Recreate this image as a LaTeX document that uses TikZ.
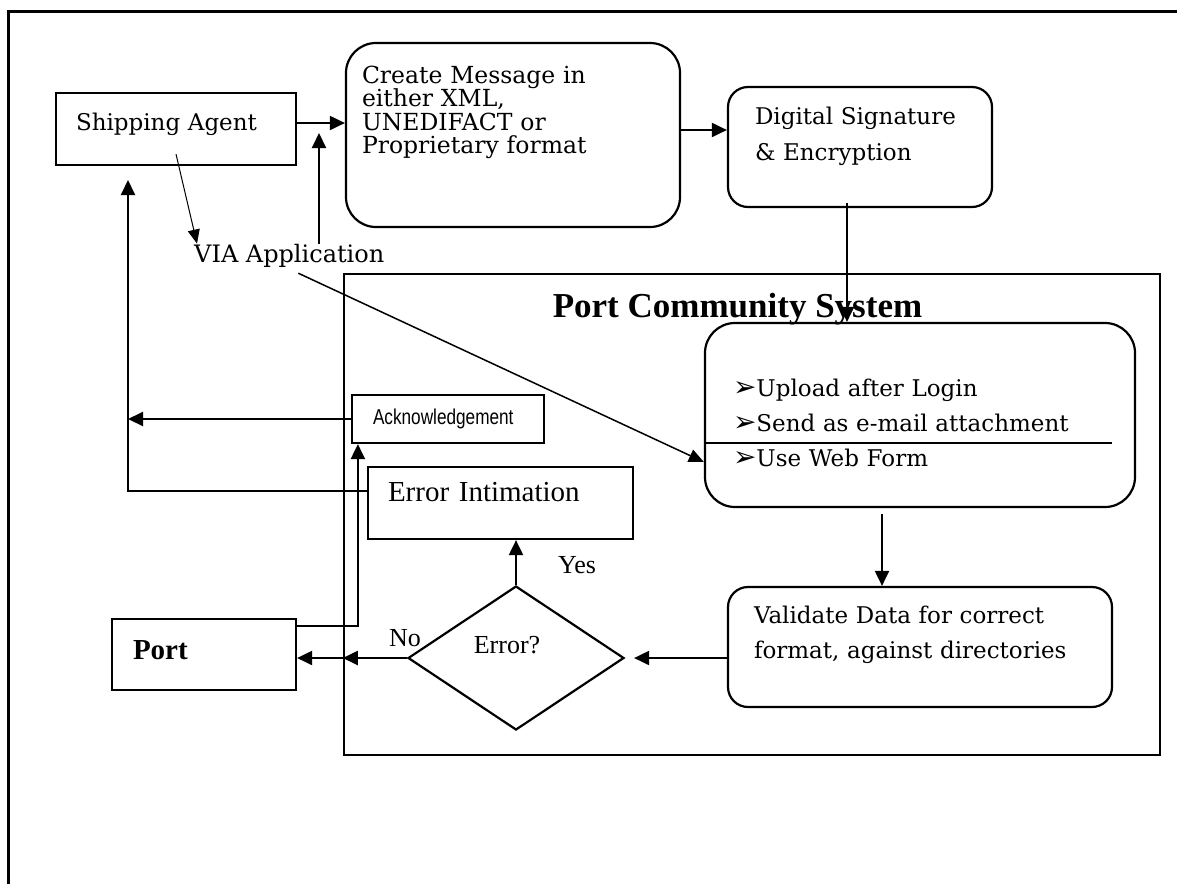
\documentclass[tikz,border=0pt]{standalone}
\usepackage{fontspec}
\setmainfont{DejaVu Serif}
\newfontfamily\tnr{Liberation Serif}
\newfontfamily\ackfont[FakeStretch=0.8]{Liberation Sans}
\newfontfamily\dingfont{DejaVu Sans}
\usetikzlibrary{arrows.meta,shapes.geometric}
% extra depth on a line, to lift the text inside its box
\newcommand{\lift}[1]{\rule[-#1]{0pt}{#1}}
\newcommand{\arrowbullet}{{\dingfont\fontsize{28}{28}\selectfont ➢}}

\begin{document}
\begin{tikzpicture}[x=1pt, y=-1pt,
  box/.style={draw, line width=2.2pt, align=left, inner ysep=2pt,
    font=\fontsize{23}{35}\selectfont},
  rbox/.style={box, rounded corners=#1},
  rbox/.default=20pt,
  arr/.style={-{Triangle[length=15pt,width=14pt]}, line width=2pt},
  thinarr/.style={-{Triangle[length=14pt,width=12pt]}, line width=1pt},
  diagarr/.style={-{Triangle[length=15pt,width=13pt]}, line width=1.5pt},
  tlabel/.style={font=\tnr\fontsize{26}{30}\selectfont}]
  \useasboundingbox (0,0) rectangle (1177,884);
  \fill[white] (0,0) rectangle (1177,884);
  % outer frame
  \draw[line width=3pt] (8,884) -- (8,11) -- (1177,11);

  % Port Community System
  \node[draw, line width=2.4pt, minimum width=816pt, minimum height=481pt] (pcs) at (752,514.5) {};
  \node[font=\tnr\bfseries\fontsize{35}{40}\selectfont] (pcstitle) at (737.5,309) {Port Community System};

  % boxes
  \node[box, text width=200pt, inner xsep=20pt, minimum height=72pt] (agent) at (176,129) {Shipping Agent\lift{14pt}};
  \node[rbox=30pt, text width=302pt, inner xsep=16pt, minimum height=184pt,
    font=\fontsize{23.5}{23.5}\selectfont] (create) at (513,135)
    {Create Message in\\either XML,\\UNEDIFACT or\\Proprietary format\lift{50pt}};
  \node[rbox, text width=210pt, inner xsep=27pt, minimum height=120pt,
    font=\fontsize{23}{36}\selectfont] (digital) at (860,147)
    {Digital Signature\\\& Encryption\lift{26pt}};
  \node[rbox=30pt, text width=374pt, inner xsep=28pt, minimum height=184pt] (upload) at (920,415)
    {\rule{0pt}{33pt}\arrowbullet Upload after Login\\
     \arrowbullet Send as e-mail attachment\\
     \arrowbullet Use Web Form};
  \node[rbox, text width=332pt, inner xsep=26pt, minimum height=120pt] (validate) at (920,647)
    {Validate Data for correct\\format, against directories\lift{30pt}};
  \node[box, text width=225pt, inner xsep=20pt, minimum height=72pt,
    font=\tnr\fontsize{29}{33}\selectfont] (errbox) at (500.5,503) {Error Intimation\lift{22pt}};
  \node[box, text width=150pt, inner xsep=21pt, minimum height=48pt,
    font=\ackfont\fontsize{21.5}{24}\selectfont] (ack) at (448,419) {Acknowledgement};
  \node[box, text width=142pt, inner xsep=21pt, minimum height=71pt,
    font=\tnr\bfseries\fontsize{29}{33}\selectfont] (port) at (204,654.5) {Port\lift{9pt}};
  \node[draw, diamond, line width=2.2pt, minimum width=216pt, minimum height=144pt,
    inner sep=0pt, tlabel] (err) at (516,658) {Error?\lift{26pt}\rule{18pt}{0pt}};

  \node[anchor=base west, inner sep=0pt, font=\fontsize{24}{28}\selectfont] (via) at (194,262) {VIA Application};
  \node[tlabel] (yes) at (577,565) {Yes};
  \node[tlabel] (no) at (405,638) {No};

  % separator inside the upload box
  \coordinate (sepend) at (1112,443);
  \draw[line width=1.8pt] (upload.west |- sepend) -- (sepend);

  % connectors
  \coordinate (ag) at ([yshift=6pt]agent.east);
  \draw[arr] (ag) -- (ag -| create.west);
  \coordinate (cr) at ([yshift=5pt]create.east);
  \draw[arr] (cr) -- (cr -| digital.west);
  \draw[thinarr] ([yshift=12pt]agent.south) -- ([xshift=3pt]via.north west);
  \coordinate (viaup) at (319,133);
  \draw[arr] (via.north -| viaup) -- (viaup);
  \coordinate (webform) at ([yshift=-47pt]upload.west);
  \draw[diagarr] ([xshift=9pt,yshift=-6pt]via.south) -- (webform);
  \coordinate (ds) at ([xshift=-13pt,yshift=5pt]digital.south);
  \draw[arr] (ds) -- (ds |- upload.north);
  \coordinate (up) at ([xshift=-38pt,yshift=-6pt]upload.south);
  \draw[arr] (up) -- (up |- validate.north);
  \draw[arr] (validate.west |- err.east) -- ([xshift=9pt]err.east);
  \draw[arr] (err.north) -- (err.north |- errbox.south);
  \coordinate (pcsin) at (pcs.west |- err.west);
  \draw[arr] (err.west) -- (pcsin);
  \draw[arr] (pcsin) -- (pcsin -| port.east);
  \coordinate (pt) at ([yshift=-8pt]port.north east);
  \draw[arr] (pt) -| ([xshift=7pt]ack.south west);
  \coordinate (back) at (128,180);
  \draw[arr] (ack.west) -- (ack.west -| back);
  \draw[arr] ([yshift=12pt]errbox.west) -| (back);
\end{tikzpicture}
\end{document}
